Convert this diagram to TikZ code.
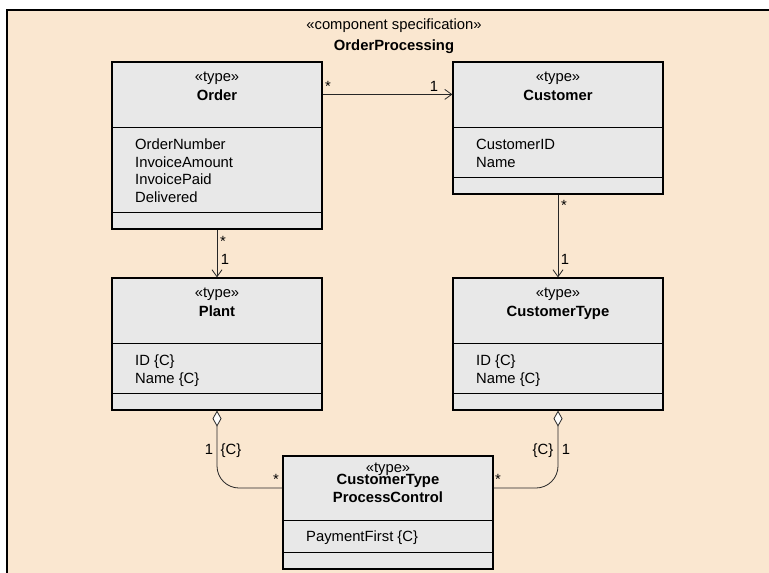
\documentclass[tikz,border=0pt]{standalone}
\usepackage{fontspec}
\setmainfont{Liberation Sans}
\usetikzlibrary{arrows.meta,positioning}
\definecolor{bg}{RGB}{250,231,208}
\definecolor{boxfill}{RGB}{232,232,232}

\begin{document}
\begin{tikzpicture}
	[
		x=1pt, y=-1pt,
		font=\fontsize{14.8}{17.5}\selectfont,
		B/.style = {rectangle, draw=black, line width=1.2pt, fill=boxfill, minimum width=210pt, inner sep=0pt},
		H/.style = {anchor=base, inner sep=0pt},
		A/.style = {anchor=north west, align=left, inner sep=0pt},
		M/.style = {anchor=base, inner sep=0pt},
		assoc/.style = {draw=black!85, line width=0.8pt, -{Straight Barb[length=7pt,width=10pt]}},
		aggr/.style = {draw=black!85, line width=0.8pt, rounded corners=22pt, {Diamond[fill=white,length=16pt,width=9pt]}-},
	]

	\useasboundingbox (0,0) rectangle (769,573);
	\clip (0,0) rectangle (769,573);

	% component frame
	\draw[line width=2pt, fill=bg] (6.7,10.2) rectangle (800,600);
	\node[H] (stereo) 	at (394, 29.0) {«component specification»};
	\node[H] (title) 	at (394, 50.5) {\bfseries OrderProcessing};

	% type boxes
	\node[B, minimum height=167pt] (order) 	at (217, 145.5) {};
	\node[B, minimum height=132pt] (cust) 	at (558, 128.0) {};
	\node[B, minimum height=132pt] (plant) 	at (217, 344.0) {};
	\node[B, minimum height=132pt] (ctype) 	at (558, 344.0) {};
	\node[B, minimum height=113pt] (ctpc) 	at (388, 512.5) {};

	\foreach \n/\h/\a in {order/66/151,cust/66/116,plant/66/116,ctype/66/116,ctpc/65/97}
	{
		\draw[line width=1.5pt] ([yshift=-\h]\n.north west) -- ([yshift=-\h]\n.north east);
		\draw[line width=0.8pt] ([yshift=-\a]\n.north west) -- ([yshift=-\a]\n.north east);
	}

	% box headers
	\node[H] (order-s) 	at (217, 81.0) {«type»};
	\node[H] (order-n) 	at (217,100.5) {\bfseries Order};
	\node[H] (cust-s) 	at (558, 81.0) {«type»};
	\node[H] (cust-n) 	at (558,100.5) {\bfseries Customer};
	\node[H] (plant-s) 	at (217,297.0) {«type»};
	\node[H] (plant-n) 	at (217,316.5) {\bfseries Plant};
	\node[H] (ctype-s) 	at (558,297.0) {«type»};
	\node[H] (ctype-n) 	at (558,316.5) {\bfseries CustomerType};
	\node[H] (ctpc-s) 	at (388,472.0) {«type»};
	\node[H] (ctpc-n1) 	at (388,484.5) {\bfseries CustomerType};
	\node[H] (ctpc-n2) 	at (388,502.0) {\bfseries ProcessControl};

	% attributes
	\node[A] (order-a) 	at (135,139) {OrderNumber\\InvoiceAmount\\InvoicePaid\\Delivered};
	\node[A] (cust-a) 	at (476,139) {CustomerID\\Name};
	\node[A] (plant-a) 	at (135,355) {ID \{C\}\\Name \{C\}};
	\node[A] (ctype-a) 	at (476,355) {ID \{C\}\\Name \{C\}};
	\node[A] (ctpc-a) 	at (306,531) {PaymentFirst \{C\}};

	% associations
	\draw[assoc] ([yshift=-33]order.north east) -- ([yshift=-33]cust.north west);
	\draw[assoc] (order.south) -- (plant.north);
	\draw[assoc] (cust.south) -- (ctype.north);
	\draw[aggr] (plant.south) |- ([yshift=24.5]ctpc.west);
	\draw[aggr] (ctype.south) |- ([yshift=24.5]ctpc.east);

	% multiplicities
	\node[M] (m1) 	at (328, 91) {*};
	\node[M] (m2) 	at (434, 91) {1};
	\node[M] (m3) 	at (223,246) {*};
	\node[M] (m4) 	at (225,264) {1};
	\node[M] (m5) 	at (564,210) {*};
	\node[M] (m6) 	at (565,264) {1};
	\node[M] (m7) 	at (209,454) {1};
	\node[M] (m8) 	at (231,454) {\{C\}};
	\node[M] (m9) 	at (276,484) {*};
	\node[M] (m10) 	at (543,454) {\{C\}};
	\node[M] (m11) 	at (566,454) {1};
	\node[M] (m12) 	at (498,484) {*};

\end{tikzpicture}
\end{document}
